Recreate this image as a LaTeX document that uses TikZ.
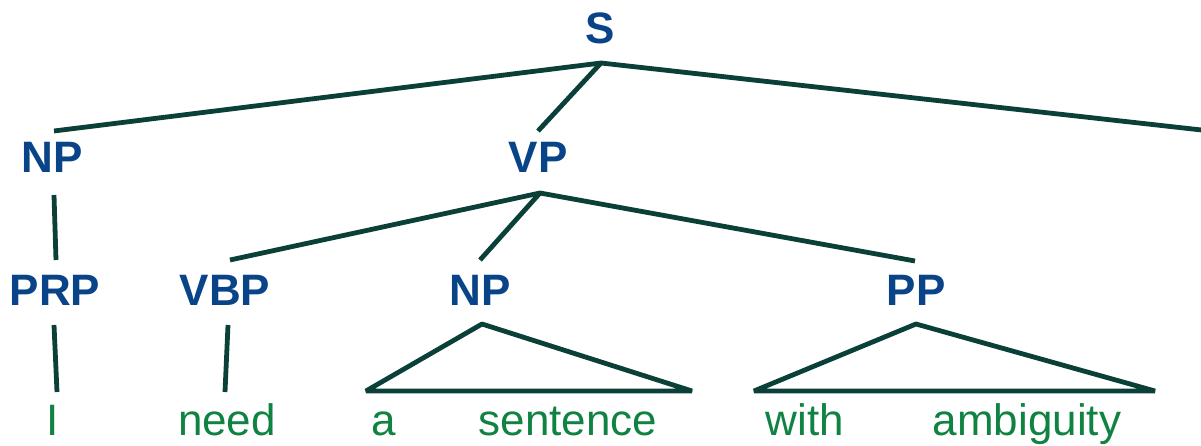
\documentclass[tikz,border=0pt]{standalone}
\usepackage{fontspec}
\setmainfont{Liberation Sans}
\usetikzlibrary{calc}
\definecolor{catblue}{RGB}{10,68,136}
\definecolor{branch}{RGB}{10,64,56}
\definecolor{wordgreen}{RGB}{16,130,66}
\tikzset{
  cat/.style={font=\fontsize{44}{50}\selectfont\bfseries, text=catblue, inner sep=0pt, anchor=base},
  word/.style={font=\fontsize{44}{50}\selectfont, text=wordgreen, inner sep=0pt, anchor=base},
  edge/.style={draw=branch, line width=4.8pt, line join=bevel},
}
\begin{document}
\begin{tikzpicture}[x=1pt, y=-1pt]
\useasboundingbox (0,0) rectangle (1201,446);

% category labels (positions are text baselines)
\node[cat] (S)   at (600,44)  {S};
\node[cat] (NPa) at (52,173)  {NP};
\node[cat] (VP)  at (538,173) {VP};
\node[cat] (PRP) at (55,305)  {PRP};
\node[cat] (VBP) at (225,305) {VBP};
\node[cat] (NPb) at (480,305) {NP};
\node[cat] (PP)  at (916,305) {PP};

% words
\node[word] (wI)   at (53,435)   {I};
\node[word] (wneed) at (227,435) {need};
\node[word] (wa)   at (384,435)  {a};
\node[word] (wsent) at (568,435) {sentence};
\node[word] (wwith) at (805,435) {with};
\node[word] (wamb) at (1027,435) {ambiguity};

% attachment points above and below the labels
\coordinate (S-foot)    at (601,63);
\coordinate (NPa-head)  at (54,131);
\coordinate (NPa-foot)  at (54,195);
\coordinate (VP-head)   at (538,131);
\coordinate (VP-foot)   at (540,193);
\coordinate (out-right) at (1215,131.5);
\coordinate (PRP-head)  at (56,260);
\coordinate (PRP-foot)  at (54,325);
\coordinate (VBP-head)  at (230,260);
\coordinate (VBP-foot)  at (228,325);
\coordinate (NPb-head)  at (480,260);
\coordinate (NPb-foot)  at (482,324);
\coordinate (PP-head)   at (915,261);
\coordinate (PP-foot)   at (916,324);
\coordinate (I-top)     at (57,392);
\coordinate (need-top)  at (225,392);
\coordinate (NPb-left)  at (366,391);
\coordinate (NPb-right) at (692,391);
\coordinate (PP-left)   at (754,391);
\coordinate (PP-right)  at (1155,391);

% branches
\draw[edge] (NPa-head) -- (S-foot) -- (out-right);
\draw[edge] (S-foot) -- (VP-head);
\draw[edge] (NPa-foot) -- (PRP-head);
\draw[edge] (VBP-head) -- (VP-foot) -- (PP-head);
\draw[edge] (VP-foot) -- (NPb-head);
\draw[edge] (PRP-foot) -- (I-top);
\draw[edge] (VBP-foot) -- (need-top);

% collapsed constituents
\draw[edge] (NPb-left) -- (NPb-foot) -- (NPb-right) -- cycle;
\draw[edge] (PP-left) -- (PP-foot) -- (PP-right) -- cycle;
\end{tikzpicture}
\end{document}
